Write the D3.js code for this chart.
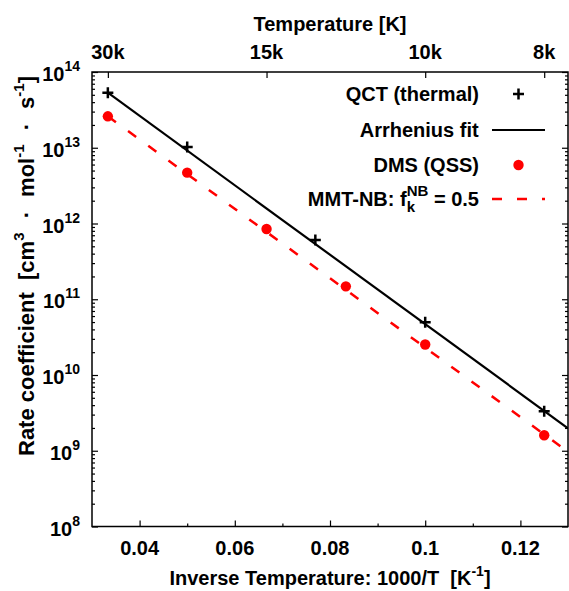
<!DOCTYPE html>
<html>
<head>
<meta charset="utf-8">
<script src="https://cdn.jsdelivr.net/npm/d3@7"></script>
<style>
  body { margin: 0; background: #fff; }
  svg text { font-family: "Liberation Sans", Arial, sans-serif; font-weight: bold; fill: #000; white-space: pre; }
</style>
</head>
<body>
<svg id="chart" width="569" height="591"></svg>
<script>
// data
const qctInvT = [0.03333, 0.05, 0.07692, 0.1, 0.125];
const qctRate = [5.33e13, 1.02e13, 6.05e11, 4.97e10, 3.32e9];

const dmsInvT = [0.03333, 0.05, 0.06667, 0.08333, 0.1, 0.125];
const dmsRate = [2.60e13, 4.69e12, 8.46e11, 1.48e11, 2.53e10, 1.60e9];

const fitInvT = [0.03333, 0.13];
const fitRate = [5.33e13, 1.98e9];

const mmtInvT = [0.03333, 0.13];
const mmtRate = [2.60e13, 9.7e8];

const xTicks = [0.04, 0.06, 0.08, 0.1, 0.12];
const xMinorTicks = [0.05, 0.07, 0.09, 0.11];
const xTickLabels = ['0.04', '0.06', '0.08', '0.1', '0.12'];
const tempTicks = [30000, 15000, 10000, 8000];
const tempLabels = ['30k', '15k', '10k', '8k'];
const yExponents = [8, 9, 10, 11, 12, 13, 14];

const W = 569, H = 591;
const margin = {top: 72, right: 1, bottom: 64.5, left: 92};
const plotW = W - margin.left - margin.right;
const plotH = H - margin.top - margin.bottom;

const svg = d3.select('#chart');

const x = d3.scaleLinear().domain([0.03, 0.13]).range([margin.left, margin.left + plotW]);
const y = d3.scaleLog().domain([1e8, 1e14]).range([margin.top + plotH, margin.top]);

const majorLen = 6, minorLen = 3;

// frame
svg.append('rect')
  .attr('x', margin.left).attr('y', margin.top)
  .attr('width', plotW).attr('height', plotH)
  .attr('fill', 'none').attr('stroke', '#000').attr('stroke-width', 1.5);

// bottom axis (ticks inward)
svg.append('g').attr('transform', `translate(0,${margin.top + plotH})`)
  .call(d3.axisTop(x).tickValues(xTicks).tickSize(majorLen).tickFormat(''))
  .call(g => g.select('.domain').remove());
svg.append('g').attr('transform', `translate(0,${margin.top + plotH})`)
  .call(d3.axisTop(x).tickValues(xMinorTicks).tickSize(minorLen).tickFormat(''))
  .call(g => g.select('.domain').remove());

svg.append('g').selectAll('text').data(xTicks).enter().append('text')
  .attr('x', d => x(d)).attr('y', margin.top + plotH + 28)
  .attr('text-anchor', 'middle').attr('font-size', 20)
  .text((d, i) => xTickLabels[i]);

// top axis: temperature
svg.append('g').attr('transform', `translate(0,${margin.top})`)
  .call(d3.axisBottom(x).tickValues(tempTicks.map(t => 1000 / t)).tickSize(majorLen).tickFormat(''))
  .call(g => g.select('.domain').remove());

svg.append('g').selectAll('text').data(tempTicks).enter().append('text')
  .attr('x', d => x(1000 / d)).attr('y', margin.top - 13)
  .attr('text-anchor', 'middle').attr('font-size', 20)
  .text((d, i) => tempLabels[i]);

// y axis ticks, left and right
const yMinor = [];
yExponents.slice(0, -1).forEach(e => { for (let m = 2; m <= 9; m++) yMinor.push(m * Math.pow(10, e)); });
const yMajor = yExponents.map(e => Math.pow(10, e));

[[d3.axisRight, margin.left], [d3.axisLeft, margin.left + plotW]].forEach(([ax, pos]) => {
  svg.append('g').attr('transform', `translate(${pos},0)`)
    .call(ax(y).tickValues(yMajor).tickSize(majorLen).tickFormat(''))
    .call(g => g.select('.domain').remove());
  svg.append('g').attr('transform', `translate(${pos},0)`)
    .call(ax(y).tickValues(yMinor).tickSize(minorLen).tickFormat(''))
    .call(g => g.select('.domain').remove());
});
svg.selectAll('.tick line').attr('stroke', '#000').attr('stroke-width', 1.2);

const yLab = svg.append('g').selectAll('text').data(yExponents).enter().append('text')
  .attr('x', margin.left - 12).attr('y', d => y(Math.pow(10, d)) + 9)
  .attr('text-anchor', 'end').attr('font-size', 20);
yLab.append('tspan').text('10');
yLab.append('tspan').attr('font-size', 14).attr('dy', -10).text(d => d);

// axis titles
svg.append('text').attr('x', margin.left + plotW / 2).attr('y', 31)
  .attr('text-anchor', 'middle').attr('font-size', 20).text('Temperature [K]');

const xt = svg.append('text').attr('x', margin.left + plotW / 2).attr('y', 585)
  .attr('text-anchor', 'middle').attr('font-size', 20);
xt.append('tspan').text('Inverse Temperature: 1000/T  [K');
xt.append('tspan').attr('font-size', 14).attr('dy', -9).text('-1');
xt.append('tspan').attr('dy', 9).text(']');

const yt = svg.append('text').attr('transform', 'translate(34,266) rotate(-90)')
  .attr('text-anchor', 'middle').attr('font-size', 22);
yt.append('tspan').attr('word-spacing', 0).text('Rate coefficient  ');
yt.append('tspan').text('[cm');
yt.append('tspan').attr('font-size', 15).attr('dy', -10).text('3');
yt.append('tspan').attr('dy', 10).text(' · mol');
yt.append('tspan').attr('font-size', 15).attr('dy', -10).text('-1');
yt.append('tspan').attr('dy', 10).text(' · s');
yt.append('tspan').attr('font-size', 15).attr('dy', -10).text('-1');
yt.append('tspan').attr('dy', 10).text(']');
// the gaps round the dots are wide in the reference
{
  const w = yt.node().getBBox().width;
  yt.attr('word-spacing', Math.max(0, (380 - w) / 4));
}

// series
svg.append('clipPath').attr('id', 'clip').append('rect')
  .attr('x', margin.left).attr('y', margin.top).attr('width', plotW).attr('height', plotH);
const plot = svg.append('g').attr('clip-path', 'url(#clip)');

const line = d3.line().x(d => x(d[0])).y(d => y(d[1]));

plot.append('path').datum(d3.zip(mmtInvT, mmtRate)).attr('d', line)
  .attr('fill', 'none').attr('stroke', '#ff0000').attr('stroke-width', 2.5)
  .attr('stroke-dasharray', '10,15');

plot.append('path').datum(d3.zip(fitInvT, fitRate)).attr('d', line)
  .attr('fill', 'none').attr('stroke', '#000').attr('stroke-width', 2.2);

plot.selectAll('circle.dms').data(d3.zip(dmsInvT, dmsRate)).enter().append('circle')
  .attr('class', 'dms').attr('cx', d => x(d[0])).attr('cy', d => y(d[1])).attr('r', 5.2)
  .attr('fill', '#ff0000');

const cross = (g, cx, cy, s) => g.append('path')
  .attr('d', `M${cx - s},${cy}H${cx + s}M${cx},${cy - s}V${cy + s}`)
  .attr('stroke', '#000').attr('stroke-width', 2.5).attr('fill', 'none');

d3.zip(qctInvT, qctRate).forEach(d => cross(plot, x(d[0]), y(d[1]), 5.5));

// legend
const legTextX = 479, legSampleX1 = 492, legSampleX2 = 545;
const rows = [94, 130, 165, 199];
const legend = svg.append('g');

const addLabel = (yy, build) => {
  const t = legend.append('text').attr('y', yy + 7).attr('font-size', 20);
  build(t);
  const w = t.node().getBBox().width;
  t.attr('x', legTextX - w);
};

addLabel(rows[0], t => t.text('QCT (thermal)'));
cross(legend, (legSampleX1 + legSampleX2) / 2, rows[0], 5.5);

addLabel(rows[1], t => t.text('Arrhenius fit'));
legend.append('line').attr('x1', legSampleX1).attr('x2', legSampleX2)
  .attr('y1', rows[1]).attr('y2', rows[1]).attr('stroke', '#000').attr('stroke-width', 2.2);

addLabel(rows[2], t => t.text('DMS (QSS)'));
legend.append('circle').attr('cx', (legSampleX1 + legSampleX2) / 2).attr('cy', rows[2])
  .attr('r', 5.2).attr('fill', '#ff0000');

addLabel(rows[3], t => {
  t.append('tspan').text('MMT-NB: f');
  t.append('tspan').attr('font-size', 15).attr('dy', 6).text('k');
  t.append('tspan').attr('font-size', 15).attr('dx', -8.3).attr('dy', -16).text('NB');
  t.append('tspan').attr('dy', 10).text(' = 0.5');
});
legend.append('line').attr('x1', legSampleX1).attr('x2', legSampleX2)
  .attr('y1', rows[3]).attr('y2', rows[3]).attr('stroke', '#ff0000').attr('stroke-width', 2.5)
  .attr('stroke-dasharray', '10,15');
</script>
</body>
</html>
